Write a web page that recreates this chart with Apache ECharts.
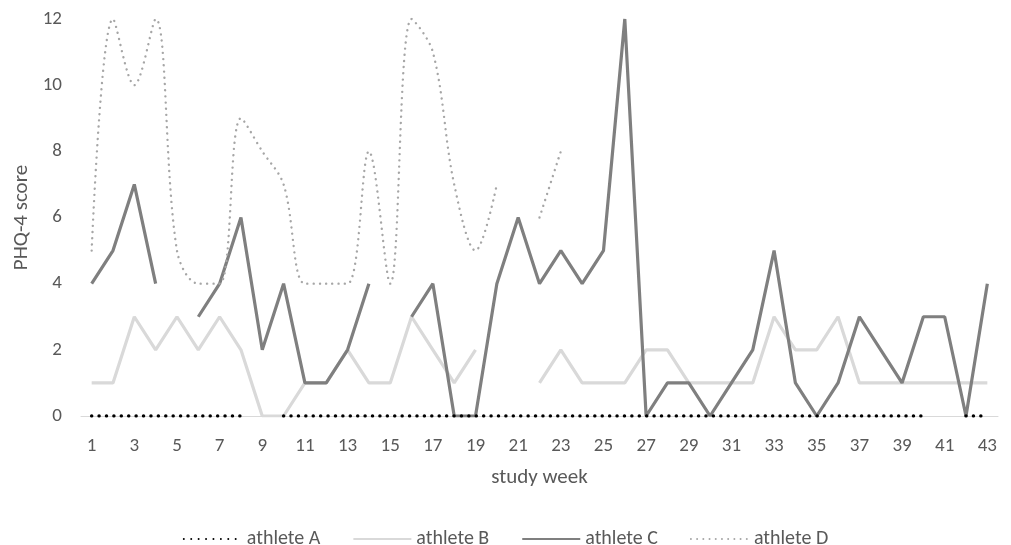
<!DOCTYPE html>
<html>
<head>
<meta charset="utf-8">
<script src="https://cdn.jsdelivr.net/npm/echarts@6/dist/echarts.min.js"></script>
<style>
  html, body { margin: 0; padding: 0; background: #ffffff; }
  #chart { width: 1011px; height: 545px; }
</style>
</head>
<body>
<div id="chart"></div>
<script>
// Study weeks on the category axis
const weeks = ['1','2','3','4','5','6','7','8','9','10','11','12','13','14','15','16','17','18','19','20','21','22',
               '23','24','25','26','27','28','29','30','31','32','33','34','35','36','37','38','39','40','41','42','43'];

// Weekly PHQ-4 scores per athlete (null = no response that week)
const athleteA = [0,0,0,0,0,0,0,0,null,0,0,0,0,0,0,0,0,0,0,0,0,0,
                  0,0,0,0,0,0,0,0,0,0,0,0,0,0,0,0,0,0,null,0,0];
const athleteB = [1,1,3,2,3,2,3,2,0,0,1,1,2,1,1,3,2,1,2,null,null,1,
                  2,1,1,1,2,2,1,1,1,1,3,2,2,3,1,1,1,1,1,1,1];
const athleteC = [4,5,7,4,null,3,4,6,2,4,1,1,2,4,null,3,4,0,0,4,6,4,
                  5,4,5,12,0,1,1,0,1,2,5,1,0,1,3,2,1,3,3,0,4];
const athleteD = [5,12,10,12,5,4,4,9,8,7,4,4,4,8,4,12,11,7,5,7,null,6,
                  8,null,null,null,null,null,null,null,null,null,null,null,null,null,null,null,null,null,null,null,null];

const yTicks = { min: 0, max: 12, step: 2 };

const FONT = "Carlito, Lato, 'Open Sans', sans-serif";
const TEXT = '#595959';

const chart = echarts.init(document.getElementById('chart'), null, { renderer: 'canvas' });

chart.setOption({
  animation: false,
  backgroundColor: '#ffffff',
  textStyle: { fontFamily: FONT, color: TEXT },
  grid: { left: 81, right: 13, top: 19, bottom: 129 },
  legend: {
    left: 'center',
    top: 524,
    itemWidth: 58,
    itemHeight: 14,
    itemGap: 32,
    // legend keys show only the line stroke, no marker
    itemStyle: { opacity: 0 },
    textStyle: { fontFamily: FONT, fontSize: 20, color: TEXT },
    data: ['athlete A', 'athlete B', 'athlete C', 'athlete D']
  },
  xAxis: {
    type: 'category',
    data: weeks,
    boundaryGap: true,
    name: 'study week',
    nameLocation: 'middle',
    nameGap: 51,
    nameTextStyle: { fontFamily: FONT, fontSize: 21, color: TEXT },
    axisLine: { lineStyle: { color: '#d9d9d9', width: 1 } },
    axisTick: { show: false },
    axisLabel: { interval: 1, margin: 21, fontFamily: FONT, fontSize: 19, color: TEXT },
    splitLine: { show: false }
  },
  yAxis: {
    type: 'value',
    min: yTicks.min,
    max: yTicks.max,
    interval: yTicks.step,
    name: 'PHQ-4 score',
    nameLocation: 'middle',
    nameGap: 48,
    nameTextStyle: { fontFamily: FONT, fontSize: 21, color: TEXT },
    axisLine: { show: false },
    axisTick: { show: false },
    axisLabel: { margin: 19, fontFamily: FONT, fontSize: 19, color: TEXT },
    splitLine: { show: false }
  },
  series: [
    {
      name: 'athlete A',
      type: 'line',
      data: athleteA,
      symbol: 'none',
      connectNulls: false,
      z: 4,
      itemStyle: { color: '#000000' },
      lineStyle: { color: '#000000', width: 3.5, type: [0.01, 7.4], cap: 'round' }
    },
    {
      name: 'athlete B',
      type: 'line',
      data: athleteB,
      symbol: 'none',
      connectNulls: false,
      z: 2,
      itemStyle: { color: '#d9d9d9' },
      lineStyle: { color: '#d9d9d9', width: 3.2 }
    },
    {
      name: 'athlete C',
      type: 'line',
      data: athleteC,
      symbol: 'none',
      connectNulls: false,
      z: 3,
      itemStyle: { color: '#7f7f7f' },
      lineStyle: { color: '#7f7f7f', width: 3.2 }
    },
    {
      name: 'athlete D',
      type: 'line',
      data: athleteD,
      symbol: 'none',
      smooth: 0.35,
      connectNulls: false,
      z: 3,
      itemStyle: { color: '#a6a6a6' },
      lineStyle: { color: '#a6a6a6', width: 2.4, type: [0.01, 6.2], cap: 'round' }
    }
  ]
});
</script>
</body>
</html>
